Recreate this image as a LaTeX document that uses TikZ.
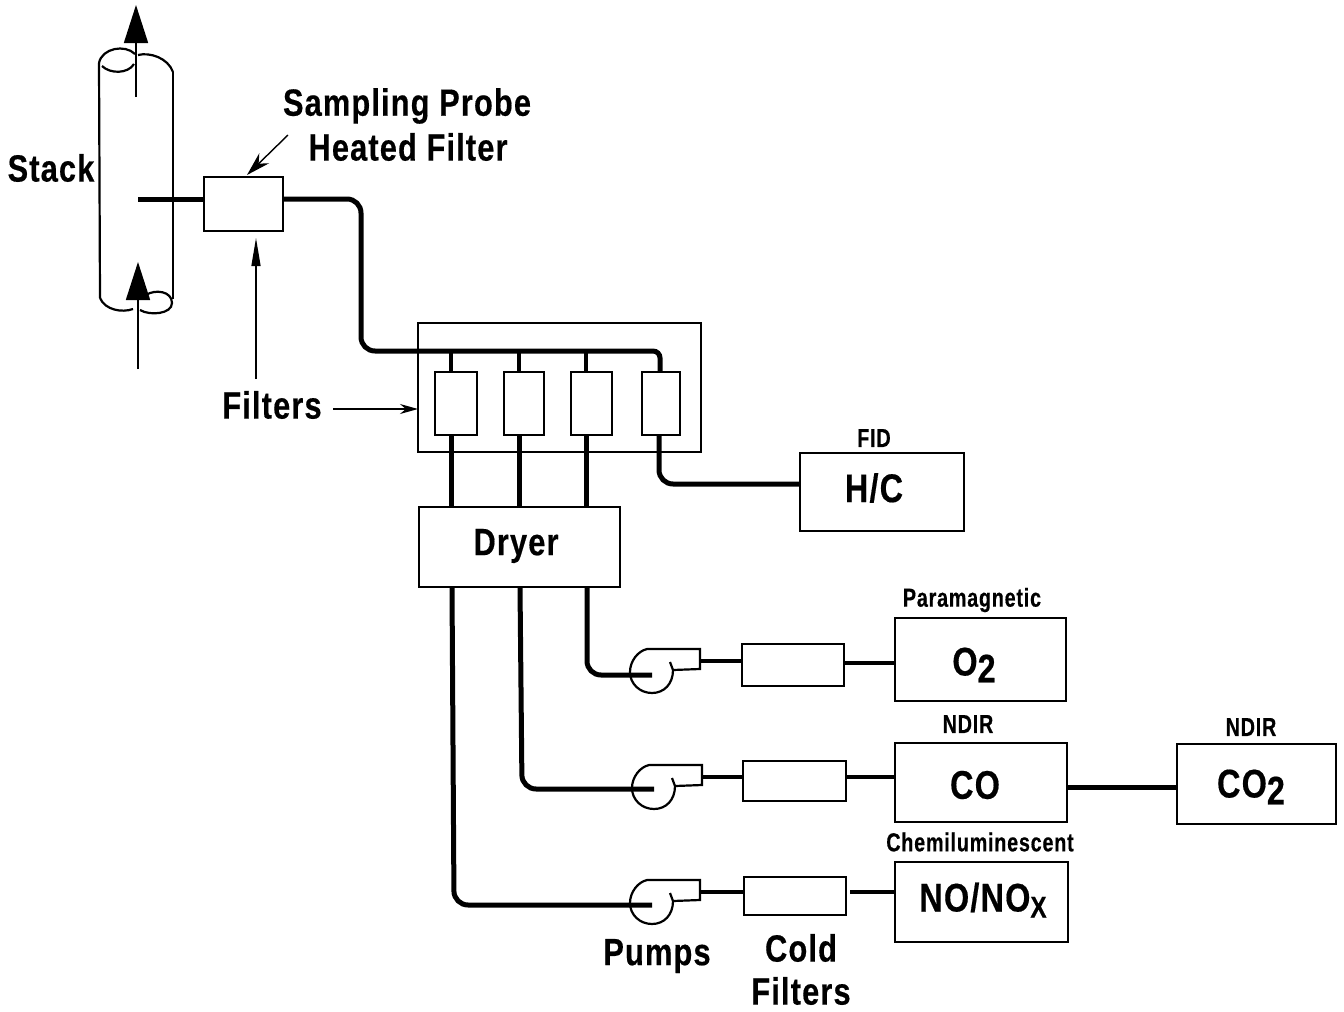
\documentclass[tikz,border=0pt]{standalone}
\usepackage{fontspec}
\setmainfont{Liberation Sans}
\newfontfamily\lab[FakeStretch=0.81,LetterSpace=3,FakeBold=0.4]{Liberation Sans Bold}
\newfontfamily\labs[FakeStretch=0.76,LetterSpace=3,FakeBold=0.4]{Liberation Sans Bold}
\usetikzlibrary{arrows.meta,fit}
\tikzset{
  box/.style={draw,line width=2.4pt,inner sep=0pt,outer sep=0pt},
  pipe/.style={line width=5pt,rounded corners=14pt,line cap=butt},
  thin pipe/.style={line width=4pt},
  ptr/.style={line width=1.7pt,-{Triangle[length=38pt,width=24pt]}},
  ptrs/.style={line width=1.4pt,-{Stealth[length=18pt,width=10pt]}},
  big/.style={font=\lab\fontsize{38}{40}\selectfont,inner sep=0pt},
  mid/.style={font=\lab\fontsize{40}{42}\selectfont,inner sep=0pt},
  small/.style={font=\labs\fontsize{26}{28}\selectfont,inner sep=0pt},
  shell/.style={line width=2.2pt}
}
\newcommand{\pumpshape}[3]{%
  \coordinate (#1) at (#2,#3);
  \begin{scope}[shift={(#2,#3)}]
    \draw[shell] (18,-10) -- (21,-2) -- (48,-3) -- (48,-23) -- (-5,-23)
      .. controls (-14,-21) and (-22,-11) .. (-22,0)
      .. controls (-22,12) and (-12,21) .. (0,21)
      .. controls (12,21) and (21,12) .. (21,-2);
    \coordinate (#1o) at (48,-11);
  \end{scope}}
\begin{document}
\begin{tikzpicture}[x=1pt,y=-1pt]
\useasboundingbox (0,0) rectangle (1344,1012);
% stack
\draw[shell] (99,63) -- (100,298);
\draw[shell] (173,72) -- (173,299);
\draw[shell] (99,63) .. controls (102,48) and (125,44) .. (135,54);
\draw[shell] (102,66) .. controls (110,74) and (128,74) .. (134,64);
\draw[shell] (138,55) .. controls (150,52) and (168,58) .. (173,72);
\draw[shell] (100,298) .. controls (105,310) and (122,313) .. (133,309);
\draw[shell] (140,310) .. controls (150,316) and (172,314) .. (172,303) .. controls (172,291) and (155,289) .. (146,295);
\coordinate (topS) at (136,97); \coordinate (topE) at (136,5);
\coordinate (botS) at (138,369); \coordinate (botE) at (138,262);
\draw[ptr] (topS) -- (topE);
\draw[ptr] (botS) -- (botE);
% boxes
\node[box,fit={(204,177)(283,231)}] (probe) {};
\node[box,fit={(418,323)(701,452)}] (bank) {};
\node[box,fit={(435,372)(477,435)}] (f1) {};
\node[box,fit={(504,372)(544,435)}] (f2) {};
\node[box,fit={(571,372)(612,435)}] (f3) {};
\node[box,fit={(642,372)(680,435)}] (f4) {};
\node[box,fit={(419,507)(620,587)}] (dryer) {};
\node[box,fit={(800,453)(964,531)}] (hc) {};
\node[box,fit={(742,644)(844,686)}] (c1) {};
\node[box,fit={(743,761)(846,801)}] (c2) {};
\node[box,fit={(744,877)(846,915)}] (c3) {};
\node[box,fit={(895,618)(1066,701)}] (o2) {};
\node[box,fit={(895,743)(1067,822)}] (co) {};
\node[box,fit={(895,862)(1068,942)}] (no) {};
\node[box,fit={(1177,744)(1336,824)}] (co2) {};
% pumps
\pumpshape{p1}{652}{672}
\pumpshape{p2}{654}{788}
\pumpshape{p3}{652}{903}
% pipes
\coordinate (probeIn) at (138,199);
\coordinate (probeOut) at (283,199);
\coordinate (t1) at (451,351);
\coordinate (t2) at (519,351);
\coordinate (t3) at (586,351);
\draw[pipe] (probeIn) -- (probeIn -| probe.west);
\draw[pipe] (probeOut) -- (361,199) -- (361,351) [rounded corners=7pt] -- (660,351) -- (660,372);
\draw[pipe,line width=4pt] (t1) -- (t1 |- f1.north);
\draw[pipe,line width=4pt] (t2) -- (t2 |- f2.north);
\draw[pipe,line width=4pt] (t3) -- (t3 |- f3.north);
\coordinate (b1) at (451,435);
\coordinate (b2) at (519,435);
\coordinate (b3) at (586,435);
\draw[pipe] (b1) -- (b1 |- dryer.north);
\draw[pipe] (b2) -- (b2 |- dryer.north);
\draw[pipe] (b3) -- (b3 |- dryer.north);
\coordinate (b4) at (659,435);
\draw[pipe] (b4) -- (659,484) -- (800,484);
\coordinate (d3) at (587,587);
\coordinate (d2) at (520,587);
\coordinate (d1) at (452,587);
\draw[pipe] (d3) -- (587,675) -- (p1 |- 0,675);
\draw[pipe] (d2) -- (522,789) -- (p2 |- 0,789);
\draw[pipe] (d1) -- (454,905) -- (p3 |- 0,905);
\draw[thin pipe] (p1o) -- (p1o -| c1.west);
\draw[thin pipe] (p2o) -- (p2o -| c2.west);
\draw[thin pipe] (p3o) -- (p3o -| c3.west);
\coordinate (a1) at (844,663);
\coordinate (a2) at (846,777);
\coordinate (a3) at (850,892);
\draw[thin pipe] (a1) -- (a1 -| o2.west);
\draw[thin pipe] (a2) -- (a2 -| co.west);
\draw[thin pipe] (a3) -- (a3 -| no.west);
\coordinate (cc) at (1067,787);
\draw[pipe] (cc) -- (cc -| co2.west);
% labels
\node[big] (lstack) at (51,168) {Stack};
\node[big] (lprobe) at (407,106) {Sampling Probe};
\node[big] (lheat) at (408,147) {Heated Filter};
\node[big] (lfilt) at (272,405) {Filters};
\node[small] (lfid) at (874,438) {FID};
\node[mid] (lhc) at (874,488) {H/C};
\node[big] (ldry) at (516,546) {Dryer};
\node[small] (lpara) at (972,600) {Paramagnetic};
\node[mid] (lo2) at (974,665) {O\raisebox{-7pt}{2}};
\node[small] (ln1) at (968,724) {NDIR};
\node[mid] (lco) at (975,785) {CO};
\node[small] (ln2) at (1251,727) {NDIR};
\node[mid] (lco2) at (1251,787) {CO\raisebox{-7pt}{2}};
\node[small] (lchem) at (980,842) {Chemiluminescent};
\node[mid] (lno) at (983,900) {NO/NO\raisebox{-6pt}{\fontsize{30}{30}\selectfont X}};
\node[big] (lpump) at (657,956) {Pumps};
\node[big] (lcold) at (801,948) {Cold};
\node[big] (lcf) at (801,991) {Filters};
% pointers
\coordinate (sS) at (288,135);
\coordinate (sE) at (247,175);
\draw[ptrs,-{Stealth[length=24pt,width=14pt]}] (sS) -- (sE);
\coordinate (uS) at (256,379);
\coordinate (uE) at (256,238);
\draw[ptrs,-{Triangle[length=28pt,width=9pt]}] (uS) -- (uE);
\coordinate (rS) at (333,409);
\draw[ptrs] (rS) -- (rS -| bank.west);
\end{tikzpicture}
\end{document}
